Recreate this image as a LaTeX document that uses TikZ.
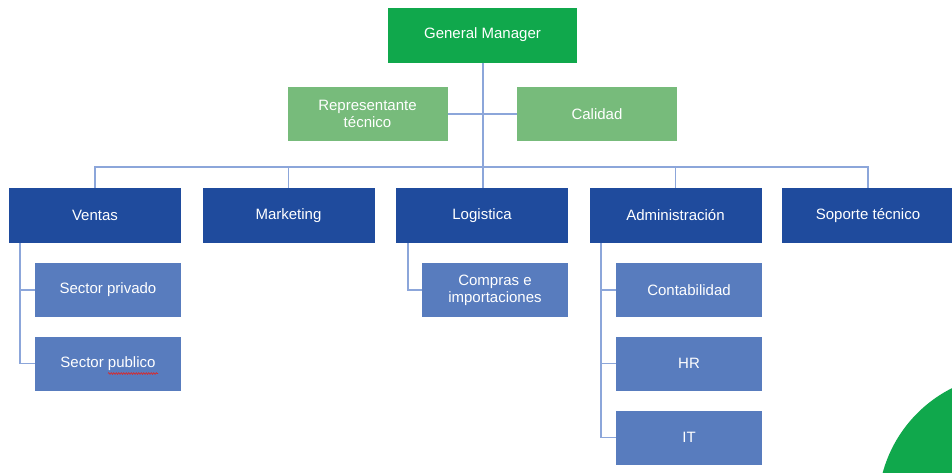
\documentclass[tikz,border=0pt]{standalone}
\usepackage{fontspec}
\setmainfont{Liberation Sans}
\usetikzlibrary{decorations.pathmorphing}
\definecolor{gmgreen}{RGB}{16,168,76}
\definecolor{lightgreen}{RGB}{119,187,123}
\definecolor{deptblue}{RGB}{31,75,157}
\definecolor{subblue}{RGB}{88,124,190}
\definecolor{linkblue}{RGB}{140,166,218}
\definecolor{spellred}{RGB}{220,40,40}
\begin{document}
\begin{tikzpicture}[x=1pt,y=-1pt,
  box/.style={draw=none,text=white,align=center,inner sep=0pt,
    font=\fontsize{15}{17}\selectfont},
  topbox/.style={box,fill=gmgreen,minimum width=189,minimum height=55},
  staffbox/.style={box,fill=lightgreen,minimum width=160,minimum height=54},
  deptbox/.style={box,fill=deptblue,minimum width=172,minimum height=55},
  subbox/.style={box,fill=subblue,minimum width=146,minimum height=54},
  link/.style={draw=linkblue,line width=1.3}]
\useasboundingbox (0,0) rectangle (952,472);
% decorative corner disc
\fill[gmgreen] (1012,508) circle[radius=134];
% boxes
\node[topbox] (gm) at (482.5,35) {General Manager};
\node[staffbox] (rep) at (367.5,114) {Representante\\técnico};
\node[staffbox] (cal) at (597,114) {Calidad};
\node[deptbox] (ven) at (95,215.5) {Ventas};
\node[deptbox] (mkt) at (288.5,215.5) {Marketing};
\node[deptbox] (log) at (482,215.5) {Logistica};
\node[deptbox] (adm) at (675.5,215.5) {Administración};
\node[deptbox] (sop) at (868,215.5) {Soporte técnico};
\node[subbox] (spr) at (108,290) {Sector privado};
\node[subbox] (spu) at (108,363.5) {Sector publico};
\node[subbox] (com) at (495,290) {Compras e\\importaciones};
\node[subbox] (con) at (689,290) {Contabilidad};
\node[subbox] (hr) at (689,363.5) {HR};
\node[subbox] (it) at (689,437.5) {IT};
% spell-check mark under "publico"
\draw[spellred,line width=0.6,decorate,decoration={snake,amplitude=0.9,segment length=2.5}]
  (108,373.5) -- (158,373.5);
% connector routing points
\coordinate (bar) at (483,167);
\coordinate (vl) at (20,0);
\coordinate (ll) at (408,0);
\coordinate (al) at (601,0);
% connectors
\draw[link] (gm.south -| bar) -- (bar |- ven.north);
\draw[link] (rep.east) -- (cal.west);
\draw[link] (ven.north) |- (bar) -| (sop.north);
\draw[link] (mkt.north) -- (mkt.north |- bar);
\draw[link] (adm.north) -- (adm.north |- bar);
\draw[link] (vl |- ven.south) |- (spr.west);
\draw[link] (vl |- ven.south) |- (spu.west);
\draw[link] (ll |- log.south) |- (com.west);
\draw[link] (al |- adm.south) |- (con.west);
\draw[link] (al |- adm.south) |- (hr.west);
\draw[link] (al |- adm.south) |- (it.west);
\end{tikzpicture}
\end{document}
